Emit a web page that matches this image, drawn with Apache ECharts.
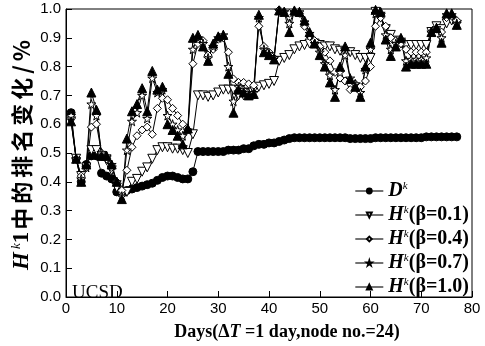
<!DOCTYPE html>
<html><head><meta charset="utf-8">
<script src="https://cdn.jsdelivr.net/npm/echarts@6/dist/echarts.min.js"></script>
<style>html,body{margin:0;padding:0;background:#fff}#c{width:485px;height:346px}</style>
</head><body><div id="c"></div>
<script>
// Days 1..77
const days = Array.from({length:77},(_,i)=>i+1);
const seriesNames = ['Dk','H0.1','H0.4','H0.7','H1.0'];
const betaLabels = [null,'0.1','0.4','0.7','1.0'];
const xTicks = [0,10,20,30,40,50,60,70,80];
const yTicks = [0,0.1,0.2,0.3,0.4,0.5,0.6,0.7,0.8,0.9,1.0];
const yTitleChars = ['中','的','排','名','变','化','/','%'];

const Dk = [0.64,0.48,0.40,0.46,0.49,0.49,0.43,0.42,0.41,0.365,
 0.36,0.37,0.375,0.38,0.385,0.39,0.395,0.405,0.415,0.42,
 0.42,0.415,0.41,0.41,0.435,0.505,0.505,0.505,0.505,0.505,
 0.505,0.51,0.51,0.51,0.515,0.515,0.525,0.53,0.53,0.535,
 0.535,0.54,0.545,0.55,0.553,0.553,0.553,0.553,0.553,0.553,
 0.553,0.553,0.553,0.553,0.553,0.55,0.55,0.55,0.55,0.55,
 0.553,0.553,0.553,0.553,0.553,0.553,0.553,0.553,0.553,0.553,
 0.556,0.556,0.556,0.556,0.556,0.556,0.556];

const H01 = [0.61,0.48,0.42,0.45,0.51,0.51,0.49,0.475,0.44,0.38,
 0.355,0.365,0.40,0.41,0.435,0.45,0.48,0.51,0.52,0.52,
 0.515,0.515,0.51,0.50,0.565,0.70,0.70,0.695,0.70,0.71,
 0.72,0.72,0.72,0.70,0.70,0.71,0.72,0.73,0.735,0.74,
 0.75,0.82,0.83,0.84,0.86,0.87,0.875,0.88,0.88,0.875,
 0.87,0.87,0.86,0.855,0.85,0.85,0.84,0.83,0.83,0.83,
 0.99,0.97,0.93,0.91,0.89,0.88,0.875,0.875,0.875,0.875,
 0.875,0.92,0.94,0.93,0.95,0.96,0.945];

const H04 = [0.62,0.48,0.42,0.45,0.59,0.60,0.50,0.48,0.45,0.40,
 0.37,0.44,0.52,0.56,0.58,0.59,0.565,0.655,0.69,0.685,
 0.655,0.63,0.60,0.58,0.81,0.88,0.89,0.84,0.86,0.895,
 0.90,0.85,0.757,0.745,0.745,0.74,0.735,0.94,0.87,0.85,
 0.83,0.997,0.99,0.985,0.99,0.985,0.94,0.905,0.89,0.87,
 0.85,0.82,0.78,0.76,0.75,0.72,0.74,0.73,0.75,0.80,
 0.94,0.97,0.94,0.90,0.89,0.88,0.86,0.85,0.85,0.85,
 0.85,0.92,0.93,0.92,0.97,0.975,0.96];

const H07 = [0.63,0.48,0.41,0.45,0.67,0.63,0.50,0.49,0.46,0.40,
 0.35,0.51,0.61,0.64,0.70,0.62,0.76,0.71,0.72,0.63,
 0.60,0.58,0.56,0.58,0.86,0.90,0.88,0.83,0.87,0.90,
 0.91,0.80,0.68,0.73,0.72,0.71,0.71,0.97,0.86,0.845,
 0.83,0.995,0.99,0.95,0.99,0.99,0.955,0.915,0.88,0.85,
 0.81,0.77,0.72,0.78,0.84,0.76,0.74,0.71,0.79,0.86,
 0.985,0.985,0.91,0.86,0.88,0.895,0.82,0.825,0.825,0.825,
 0.83,0.92,0.935,0.90,0.98,0.98,0.95];

const H10 = [0.61,0.48,0.40,0.46,0.71,0.65,0.49,0.49,0.46,0.40,
 0.34,0.55,0.645,0.67,0.725,0.645,0.785,0.72,0.73,0.60,
 0.58,0.56,0.53,0.585,0.90,0.91,0.87,0.82,0.88,0.905,
 0.91,0.775,0.64,0.72,0.71,0.70,0.705,0.98,0.85,0.84,
 0.825,0.995,0.99,0.92,0.995,0.99,0.96,0.92,0.88,0.84,
 0.80,0.745,0.695,0.80,0.87,0.757,0.73,0.695,0.80,0.883,
 0.997,0.99,0.894,0.837,0.87,0.90,0.80,0.81,0.81,0.81,
 0.81,0.92,0.934,0.883,0.985,0.985,0.945];

const allData = [Dk,H01,H04,H07,H10];
const STAR = 'path://M50,0 L61,35 L98,35 L68,57 L79,91 L50,70 L21,91 L32,57 L2,35 L39,35 Z';
const INVTRI = 'path://M0,0 L100,0 L50,87 Z';
const symbols = ['circle', INVTRI, 'diamond', STAR, 'triangle'];
const sizes = [8, 9, 8, 9, 9];
const filled = [true, false, false, false, true];

const chart = echarts.init(document.getElementById('c'), null, {renderer:'canvas'});
const serif = 'Liberation Serif';
const series = allData.map((d,k)=>({
  name: seriesNames[k], type:'line',
  data: days.map((x,i)=>[x,d[i]]),
  symbol: symbols[k], symbolSize: sizes[k], showAllSymbol:true,
  lineStyle:{color:'#000', width:1},
  itemStyle:{color: filled[k]?'#000':'#fff', borderColor:'#000', borderWidth:1},
  emphasis:{disabled:true}, animation:false
}));

const yTitle = '{h|H}{s| k}{n|1}' + yTitleChars.map(c=>'{c|'+c+'}').join('');

chart.setOption({
  animation:false,
  grid:{left:66, right:13, top:9, bottom:41, show:true, borderColor:'#000', borderWidth:1},
  xAxis:{type:'value', min:0, max:80, interval:10,
    axisLine:{onZero:false, lineStyle:{color:'#000', width:1}},
    axisTick:{inside:true, length:6, lineStyle:{color:'#000'}},
    axisLabel:{color:'#000', fontFamily:'Liberation Sans', fontSize:15, margin:4},
    splitLine:{show:false},
    name:'{b|Days(Δ}{i|T}{b| =1 day,node no.=24)}', nameLocation:'middle', nameGap:26,
    nameTextStyle:{color:'#000', padding:[0,0,0,36], rich:{
      b:{fontFamily:serif, fontWeight:'bold', fontSize:18, color:'#000'},
      i:{fontFamily:serif, fontWeight:'bold', fontStyle:'italic', fontSize:18, color:'#000'}
    }}
  },
  yAxis:{type:'value', min:0, max:1, interval:0.1,
    axisLine:{lineStyle:{color:'#000', width:1}},
    axisTick:{inside:true, length:6, lineStyle:{color:'#000'}},
    axisLabel:{color:'#000', fontFamily:'Liberation Sans', fontSize:15, margin:5,
      formatter:v=>v.toFixed(1)},
    splitLine:{show:false}
  },
  legend:{orient:'vertical', right:11, top:176, itemGap:4, itemWidth:28, itemHeight:6,
    data: seriesNames,
    lineStyle:{color:'#444', width:1.5},
    formatter: name=>{
      const k = seriesNames.indexOf(name);
      if(k===0) return '{h|D}{s|k}';
      return '{h|H}{s|k}{b|(β=' + betaLabels[k] + ')}';
    },
    textStyle:{color:'#000', rich:{
      h:{fontFamily:serif, fontStyle:'italic', fontWeight:'bold', fontSize:20, color:'#000'},
      s:{fontFamily:serif, fontStyle:'italic', fontSize:11, color:'#000', verticalAlign:'top', padding:[0,0,9,0]},
      b:{fontFamily:serif, fontWeight:'bold', fontSize:20, color:'#000'}
    }}
  },
  graphic:[
    {type:'text', left:72, top:284, style:{text:'UCSD', fontFamily:serif, fontSize:19, fill:'#000'}},
    {type:'text', x:22, y:154, rotation:Math.PI/2, style:{text:yTitle, align:'center', verticalAlign:'middle', fill:'#000', rich:{
      h:{fontFamily:serif, fontStyle:'italic', fontWeight:'bold', fontSize:23, fill:'#000'},
      s:{fontFamily:serif, fontStyle:'italic', fontSize:13, fill:'#000', verticalAlign:'top', padding:[0,0,10,0]},
      n:{fontFamily:serif, fontWeight:'bold', fontSize:23, fill:'#000'},
      c:{fontFamily:'Noto Sans CJK SC', fontWeight:'bold', fontSize:22, fill:'#000', padding:[0,2,0,2]}
    }}}
  ],
  series: series
});
</script></body></html>
